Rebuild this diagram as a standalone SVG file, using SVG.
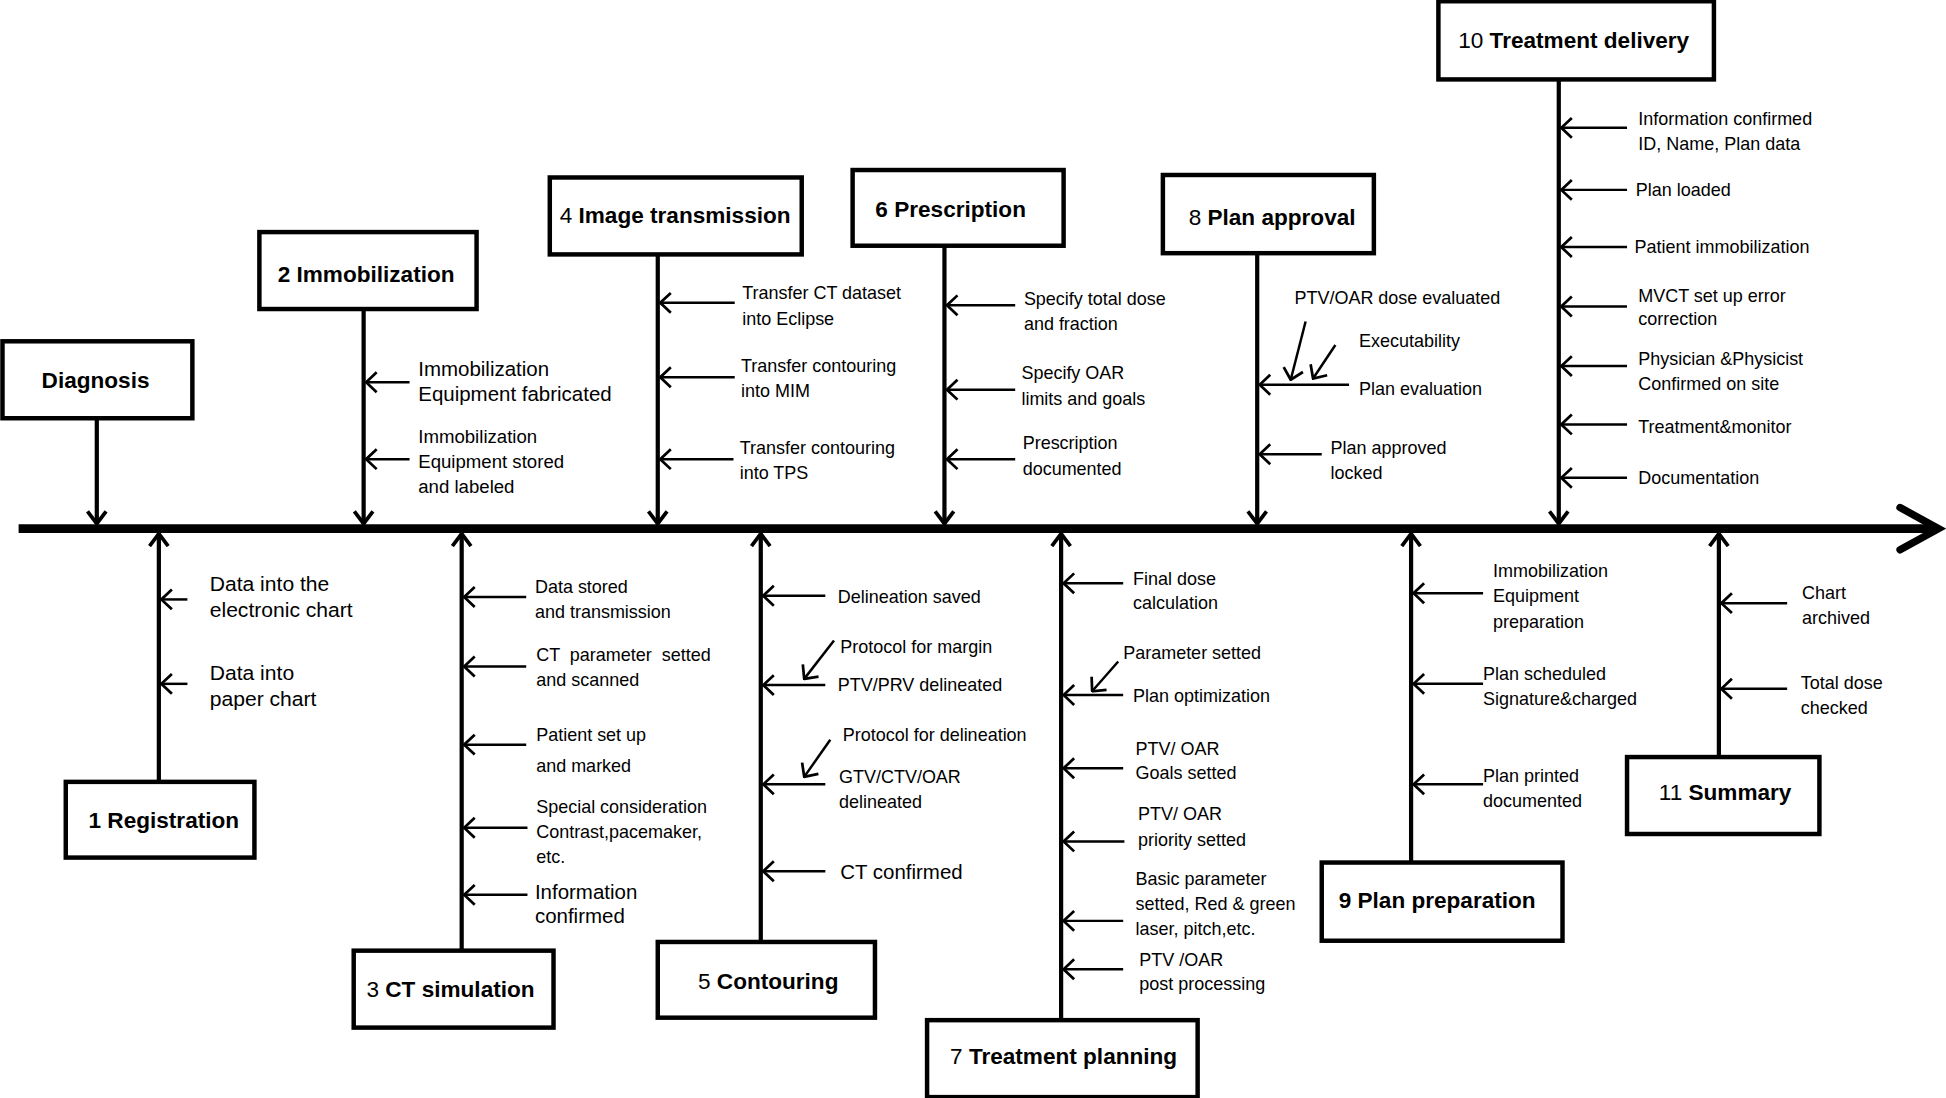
<svg xmlns="http://www.w3.org/2000/svg" width="1946" height="1098" viewBox="0 0 1946 1098">
<style>
.box{fill:#fff;stroke:#000;stroke-width:3.6}
.lbl{font-family:"Liberation Sans",Arial,sans-serif;font-size:18.2px;font-weight:bold;text-anchor:middle}
.n{font-weight:normal}
.t{font-family:"Liberation Sans",Arial,sans-serif;font-size:14.5px}
.t17{font-size:17px}
.t16{font-size:16.5px}
.t15{font-size:15px}
.stem{stroke:#000;stroke-width:3.4;fill:none;marker-end:url(#st)}
.sub{stroke:#000;stroke-width:2;fill:none;marker-end:url(#sa)}
</style>
<defs>
<marker id="sa" viewBox="0 0 11 20" refX="10" refY="10" markerWidth="11" markerHeight="20" markerUnits="userSpaceOnUse" orient="auto"><path d="M1.5,2 L10,10 L1.5,18" fill="none" stroke="#000" stroke-width="2.2"/></marker>
<marker id="st" viewBox="0 0 13 20" refX="11" refY="10" markerWidth="13" markerHeight="20" markerUnits="userSpaceOnUse" orient="auto"><path d="M1,2.5 L11,10 L1,17.5" fill="none" stroke="#000" stroke-width="3"/></marker>
</defs>
<rect width="1946" height="1098" fill="#fff"/>
<g transform="scale(1.24107)">
<g id="connectors">
<line x1="15" y1="426" x2="1558" y2="426" stroke="#000" stroke-width="7"/>
<path d="M1531,409 L1562,426 L1531,443" fill="none" stroke="#000" stroke-width="6" stroke-linecap="round"/>
<line class="stem" x1="78" y1="337" x2="78" y2="422"/>
<line class="stem" x1="293" y1="249" x2="293" y2="422"/>
<line class="stem" x1="530" y1="205" x2="530" y2="422"/>
<line class="stem" x1="761" y1="198" x2="761" y2="422"/>
<line class="stem" x1="1013" y1="204" x2="1013" y2="422"/>
<line class="stem" x1="1256" y1="64" x2="1256" y2="422"/>
<line class="stem" x1="128" y1="630" x2="128" y2="430"/>
<line class="stem" x1="372" y1="766" x2="372" y2="430"/>
<line class="stem" x1="613" y1="759" x2="613" y2="430"/>
<line class="stem" x1="855" y1="822" x2="855" y2="430"/>
<line class="stem" x1="1137" y1="695" x2="1137" y2="430"/>
<line class="stem" x1="1385" y1="610" x2="1385" y2="430"/>
<line class="sub" x1="330" y1="308" x2="295" y2="308"/>
<line class="sub" x1="330" y1="370" x2="295" y2="370"/>
<line class="sub" x1="592" y1="244" x2="532" y2="244"/>
<line class="sub" x1="592" y1="304" x2="532" y2="304"/>
<line class="sub" x1="591" y1="370" x2="532" y2="370"/>
<line class="sub" x1="818" y1="246" x2="763" y2="246"/>
<line class="sub" x1="818" y1="314" x2="763" y2="314"/>
<line class="sub" x1="818" y1="370" x2="763" y2="370"/>
<line class="sub" x1="1087" y1="310" x2="1015" y2="310"/>
<line class="sub" x1="1052" y1="259" x2="1040" y2="306"/>
<line class="sub" x1="1076" y1="278" x2="1058" y2="305"/>
<line class="sub" x1="1065" y1="366" x2="1015" y2="366"/>
<line class="sub" x1="1311" y1="103" x2="1258" y2="103"/>
<line class="sub" x1="1311" y1="153" x2="1258" y2="153"/>
<line class="sub" x1="1311" y1="199" x2="1258" y2="199"/>
<line class="sub" x1="1311" y1="247" x2="1258" y2="247"/>
<line class="sub" x1="1311" y1="295" x2="1258" y2="295"/>
<line class="sub" x1="1311" y1="342" x2="1258" y2="342"/>
<line class="sub" x1="1311" y1="385" x2="1258" y2="385"/>
<line class="sub" x1="151" y1="483" x2="130" y2="483"/>
<line class="sub" x1="151" y1="551" x2="130" y2="551"/>
<line class="sub" x1="424" y1="481" x2="374" y2="481"/>
<line class="sub" x1="424" y1="537" x2="374" y2="537"/>
<line class="sub" x1="424" y1="600" x2="374" y2="600"/>
<line class="sub" x1="425" y1="667" x2="374" y2="667"/>
<line class="sub" x1="425" y1="721" x2="374" y2="721"/>
<line class="sub" x1="665" y1="480" x2="615" y2="480"/>
<line class="sub" x1="665" y1="552" x2="615" y2="552"/>
<line class="sub" x1="672" y1="516" x2="648" y2="547"/>
<line class="sub" x1="665" y1="632" x2="615" y2="632"/>
<line class="sub" x1="669" y1="596" x2="648" y2="626"/>
<line class="sub" x1="665" y1="702" x2="615" y2="702"/>
<line class="sub" x1="905" y1="470" x2="857" y2="470"/>
<line class="sub" x1="905" y1="560" x2="857" y2="560"/>
<line class="sub" x1="901" y1="533" x2="880" y2="557"/>
<line class="sub" x1="905" y1="619" x2="857" y2="619"/>
<line class="sub" x1="906" y1="678" x2="857" y2="678"/>
<line class="sub" x1="905" y1="742" x2="857" y2="742"/>
<line class="sub" x1="905" y1="781" x2="857" y2="781"/>
<line class="sub" x1="1195" y1="478" x2="1139" y2="478"/>
<line class="sub" x1="1195" y1="551" x2="1139" y2="551"/>
<line class="sub" x1="1195" y1="632" x2="1139" y2="632"/>
<line class="sub" x1="1440" y1="486" x2="1387" y2="486"/>
<line class="sub" x1="1440" y1="555" x2="1387" y2="555"/>
</g>
<g id="n0"><rect class="box" x="2" y="275" width="153" height="62"/><text class="lbl" x="77" y="313">Diagnosis</text></g>
<g id="n2"><rect class="box" x="209" y="187" width="175" height="62"/><text class="lbl" x="295" y="227">2 Immobilization</text>
<text class="t t16" x="337" y="303">Immobilization</text><text class="t t16" x="337" y="323">Equipment fabricated</text>
<text class="t t15" x="337" y="357">Immobilization</text><text class="t t15" x="337" y="377">Equipment stored</text><text class="t t15" x="337" y="397">and labeled</text></g>
<g id="n4"><rect class="box" x="443" y="143" width="203" height="62"/><text class="lbl" x="544" y="180"><tspan class="n">4</tspan> Image transmission</text>
<text class="t" x="598" y="241">Transfer CT dataset</text><text class="t" x="598" y="262">into Eclipse</text>
<text class="t" x="597" y="300">Transfer contouring</text><text class="t" x="597" y="320">into MIM</text>
<text class="t" x="596" y="366">Transfer contouring</text><text class="t" x="596" y="386">into TPS</text></g>
<g id="n6"><rect class="box" x="687" y="137" width="170" height="61"/><text class="lbl" x="766" y="175">6 Prescription</text>
<text class="t" x="825" y="246">Specify total dose</text><text class="t" x="825" y="266">and fraction</text>
<text class="t" x="823" y="305">Specify OAR</text><text class="t" x="823" y="326">limits and goals</text>
<text class="t" x="824" y="362">Prescription</text><text class="t" x="824" y="383">documented</text></g>
<g id="n8"><rect class="box" x="937" y="141" width="170" height="63"/><text class="lbl" x="1025" y="181"><tspan class="n">8</tspan> Plan approval</text>
<text class="t" x="1043" y="245">PTV/OAR dose evaluated</text>
<text class="t" x="1095" y="280">Executability</text>
<text class="t" x="1095" y="318">Plan evaluation</text>
<text class="t" x="1072" y="366">Plan approved</text><text class="t" x="1072" y="386">locked</text></g>
<g id="n10"><rect class="box" x="1159" y="1" width="222" height="63"/><text class="lbl" x="1268" y="39"><tspan class="n">10</tspan> Treatment delivery</text>
<text class="t" x="1320" y="101">Information confirmed</text><text class="t" x="1320" y="121">ID, Name, Plan data</text>
<text class="t" x="1318" y="158">Plan loaded</text>
<text class="t" x="1317" y="204">Patient immobilization</text>
<text class="t" x="1320" y="243">MVCT set up error</text><text class="t" x="1320" y="262">correction</text>
<text class="t" x="1320" y="294">Physician &amp;Physicist</text><text class="t" x="1320" y="314">Confirmed on site</text>
<text class="t" x="1320" y="349">Treatment&amp;monitor</text>
<text class="t" x="1320" y="390">Documentation</text></g>
<g id="n1"><rect class="box" x="53" y="630" width="152" height="61"/><text class="lbl" x="132" y="667">1 Registration</text>
<text class="t t17" x="169" y="476">Data into the</text><text class="t t17" x="169" y="497">electronic chart</text>
<text class="t t17" x="169" y="548">Data into</text><text class="t t17" x="169" y="569">paper chart</text></g>
<g id="n3"><rect class="box" x="285" y="766" width="161" height="62"/><text class="lbl" x="363" y="803"><tspan class="n">3</tspan> CT simulation</text>
<text class="t" x="431" y="478">Data stored</text><text class="t" x="431" y="498">and transmission</text>
<text class="t" x="432" y="533" xml:space="preserve">CT  parameter  setted</text><text class="t" x="432" y="553">and scanned</text>
<text class="t" x="432" y="597">Patient set up</text><text class="t" x="432" y="622">and marked</text>
<text class="t" x="432" y="655">Special consideration</text><text class="t" x="432" y="675">Contrast,pacemaker,</text><text class="t" x="432" y="695">etc.</text>
<text class="t t16" x="431" y="724">Information</text><text class="t t16" x="431" y="744">confirmed</text></g>
<g id="n5"><rect class="box" x="530" y="759" width="175" height="61"/><text class="lbl" x="619" y="797"><tspan class="n">5</tspan> Contouring</text>
<text class="t" x="675" y="486">Delineation saved</text>
<text class="t" x="677" y="526">Protocol for margin</text>
<text class="t" x="675" y="557">PTV/PRV delineated</text>
<text class="t" x="679" y="597">Protocol for delineation</text>
<text class="t" x="676" y="631">GTV/CTV/OAR</text><text class="t" x="676" y="651">delineated</text>
<text class="t t16" x="677" y="708">CT confirmed</text></g>
<g id="n7"><rect class="box" x="747" y="822" width="218" height="62"/><text class="lbl" x="857" y="857"><tspan class="n">7</tspan> Treatment planning</text>
<text class="t" x="913" y="471">Final dose</text><text class="t" x="913" y="491">calculation</text>
<text class="t" x="905" y="531">Parameter setted</text>
<text class="t" x="913" y="566">Plan optimization</text>
<text class="t" x="915" y="608">PTV/ OAR</text><text class="t" x="915" y="628">Goals setted</text>
<text class="t" x="917" y="661">PTV/ OAR</text><text class="t" x="917" y="682">priority setted</text>
<text class="t" x="915" y="713">Basic parameter</text><text class="t" x="915" y="733">setted, Red &amp; green</text><text class="t" x="915" y="753">laser, pitch,etc.</text>
<text class="t" x="918" y="778">PTV /OAR</text><text class="t" x="918" y="798">post processing</text></g>
<g id="n9"><rect class="box" x="1065" y="695" width="194" height="63"/><text class="lbl" x="1158" y="732">9 Plan preparation</text>
<text class="t" x="1203" y="465">Immobilization</text><text class="t" x="1203" y="485">Equipment</text><text class="t" x="1203" y="506">preparation</text>
<text class="t" x="1195" y="548">Plan scheduled</text><text class="t" x="1195" y="568">Signature&amp;charged</text>
<text class="t" x="1195" y="630">Plan printed</text><text class="t" x="1195" y="650">documented</text></g>
<g id="n11"><rect class="box" x="1311" y="610" width="155" height="62"/><text class="lbl" x="1390" y="645"><tspan class="n">11</tspan> Summary</text>
<text class="t" x="1452" y="483">Chart</text><text class="t" x="1452" y="503">archived</text>
<text class="t" x="1451" y="555">Total dose</text><text class="t" x="1451" y="575">checked</text></g>
</g>
</svg>
